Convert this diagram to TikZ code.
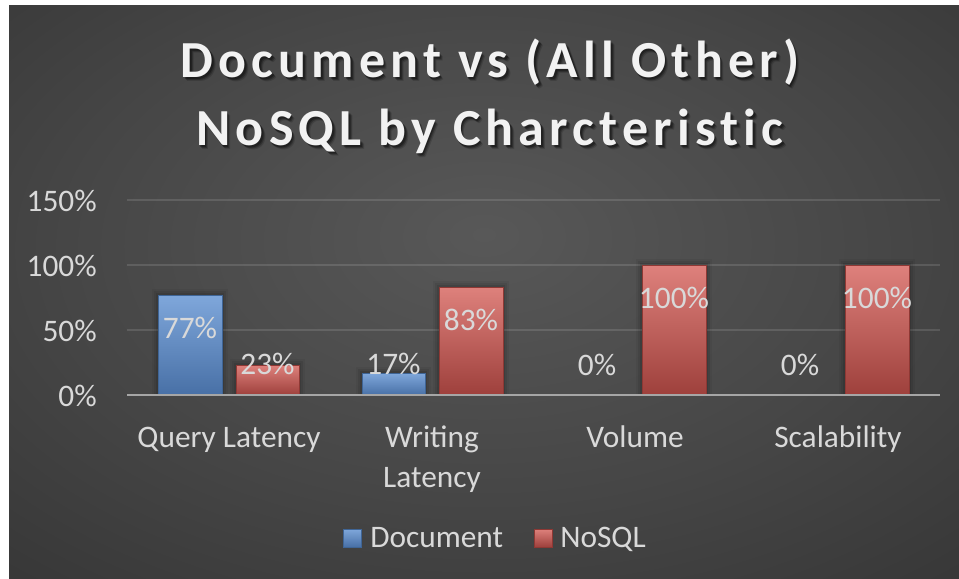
\documentclass[tikz,border=0pt]{standalone}
\usepackage{fontspec}
\setmainfont{Carlito}
\newfontfamily\titlefont[LetterSpace=10.0, Ligatures=NoCommon]{Carlito}

% palette
\definecolor{bgA}{HTML}{585858}
\definecolor{bgB}{HTML}{464646}
\definecolor{bgC}{HTML}{2C2C2C}
\definecolor{bgD}{HTML}{252525}
\definecolor{labelgray}{HTML}{D9D9D9}
\definecolor{titlewhite}{HTML}{F2F2F2}
\definecolor{axisgray}{HTML}{A6A6A6}
\definecolor{docTop}{HTML}{7FA7DB}
\definecolor{docBot}{HTML}{4870A6}
\definecolor{docEdge}{HTML}{3F6596}
\definecolor{sqlTop}{HTML}{DE817C}
\definecolor{sqlBot}{HTML}{9E403C}
\definecolor{sqlEdge}{HTML}{8E3834}

% soft radial glow behind the chart
\pgfdeclareradialshading{chartbg}{\pgfpoint{0bp}{5bp}}{%
  color(0bp)=(bgA); color(22bp)=(bgB); color(50bp)=(bgC);
  color(72bp)=(bgD); color(90bp)=(bgD)}

\tikzset{
  ticklabel/.style={font=\fontsize{23.5pt}{26pt}\selectfont, text=labelgray, inner sep=0pt, anchor=base east},
  catlabel/.style={font=\fontsize{23.5pt}{26pt}\selectfont, text=labelgray, inner sep=0pt, anchor=base},
  datalabel/.style={font=\fontsize{23.5pt}{26pt}\selectfont, text=labelgray, inner sep=0pt, anchor=base},
  legendtext/.style={font=\fontsize{23.5pt}{26pt}\selectfont, text=labelgray, inner sep=0pt, anchor=base west},
  gridline/.style={draw=white, draw opacity=0.12, line width=1.2pt},
  axisline/.style={draw=axisgray, line width=1.8pt},
  docbar/.style={top color=docTop, bottom color=docBot, draw=docEdge, line width=0.4pt},
  sqlbar/.style={top color=sqlTop, bottom color=sqlBot, draw=sqlEdge, line width=0.4pt},
  titletext/.style={font=\titlefont\bfseries\fontsize{39pt}{42pt}\selectfont, inner sep=0pt, anchor=base},
}

% a bar with a soft dark halo: #1 left, #2 right, #3 top, #4 style
\newcommand\chartbar[4]{%
  \foreach \g/\o in {6/0.05,4/0.07,2/0.09}{%
    \fill[black, opacity=\o] (#1-\g,#3-\g) rectangle (#2+\g,395);}
  \path[#4] (#1,#3) rectangle (#2,395);}

\begin{document}
\begin{tikzpicture}[x=0.75pt, y=-0.75pt]
  \useasboundingbox (0,0) rectangle (959,578);
  \fill[white] (0,0) rectangle (959,578);
  \path[shading=chartbg] (9,5) rectangle (959,578);

  % title with a soft drop shadow
  \foreach \dx/\dy/\op in {1.5/2.5/0.3, 2.5/3.5/0.25, 3.5/4.5/0.15}{%
    \node[titletext, text=black, opacity=\op] at (490+\dx,77+\dy) {Document vs (All Other)};
    \node[titletext, text=black, opacity=\op] at (490+\dx,145+\dy) {NoSQL by Charcteristic};}
  \node[titletext, text=titlewhite] (title1) at (490,77) {Document vs (All Other)};
  \node[titletext, text=titlewhite] (title2) at (490,145) {NoSQL by Charcteristic};

  % value axis grid
  \coordinate (gl150) at (127,200); \coordinate (gr150) at (940,200);
  \coordinate (gl100) at (127,265); \coordinate (gr100) at (940,265);
  \coordinate (gl50)  at (127,330); \coordinate (gr50)  at (940,330);
  \coordinate (axL)   at (127,395); \coordinate (axR)   at (940,395);
  \draw[gridline] (gl150) -- (gr150);
  \draw[gridline] (gl100) -- (gr100);
  \draw[gridline] (gl50) -- (gr50);

  \node[ticklabel] (t150) at (97,211) {150\%};
  \node[ticklabel] (t100) at (97,276) {100\%};
  \node[ticklabel] (t50)  at (97,341) {50\%};
  \node[ticklabel] (t0)   at (97,406) {0\%};

  % bars
  \chartbar{158}{222}{295}{docbar}
  \chartbar{236}{299}{365}{sqlbar}
  \chartbar{362}{425}{373}{docbar}
  \chartbar{439}{503}{287}{sqlbar}
  \chartbar{642}{706}{265}{sqlbar}
  \chartbar{845}{909}{265}{sqlbar}

  \draw[axisline] (axL) -- (axR);

  % data labels
  \node[datalabel] (v1) at (190,338) {77\%};
  \node[datalabel] (v2) at (267.5,374) {23\%};
  \node[datalabel] (v3) at (393.5,374) {17\%};
  \node[datalabel] (v4) at (471,330) {83\%};
  \node[datalabel] (v5) at (597,375) {0\%};
  \node[datalabel] (v6) at (674,308) {100\%};
  \node[datalabel] (v7) at (800,375) {0\%};
  \node[datalabel] (v8) at (877,308) {100\%};

  % category labels
  \node[catlabel] (c1) at (229,447) {Query Latency};
  \node[catlabel] (c2a) at (432,447) {Writing};
  \node[catlabel] (c2b) at (432,487) {Latency};
  \node[catlabel] (c3) at (635,447) {Volume};
  \node[catlabel] (c4) at (838,447) {Scalability};

  % legend
  \path[docbar] (343,529) rectangle (361,547);
  \node[legendtext] (legdoc) at (370,547) {Document};
  \path[sqlbar] (534,529) rectangle (552,547);
  \node[legendtext] (legsql) at (560,547) {NoSQL};
\end{tikzpicture}
\end{document}
